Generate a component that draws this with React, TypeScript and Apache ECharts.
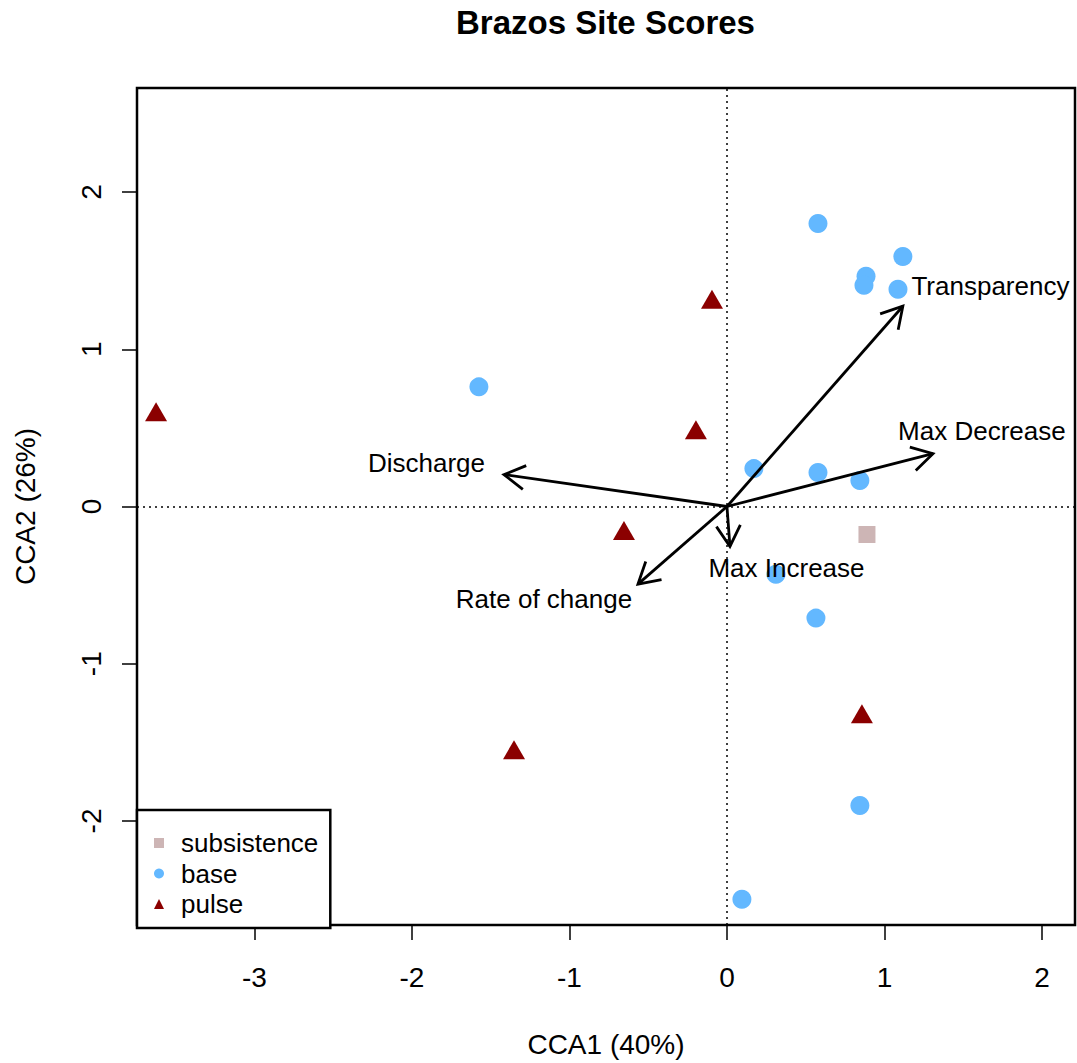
import React, { useEffect, useRef } from "react";
import * as echarts from "echarts";

// ---- data ----
const xTicks = [-3, -2, -1, 0, 1, 2];
const yTicks = [-2, -1, 0, 1, 2];

const subsistenceX = [0.889];
const subsistenceY = [-0.178];

const baseX = [0.578, 1.117, 0.883, 0.870, 1.086, -1.575, 0.171, 0.578, 0.844, 0.311, 0.565, 0.844, 0.095];
const baseY = [1.80, 1.59, 1.464, 1.407, 1.382, 0.761, 0.241, 0.216, 0.165, -0.431, -0.710, -1.902, -2.498];

const pulseX = [-0.095, -3.625, -0.197, -0.654, 0.857, -1.352];
const pulseY = [1.319, 0.602, 0.488, -0.152, -1.319, -1.547];

const vectorNames = ["Transparency", "Max Decrease", "Discharge", "Rate of change", "Max Increase"];
const vectorX = [1.117, 1.308, -1.416, -0.565, 0.019];
const vectorY = [1.274, 0.336, 0.203, -0.494, -0.254];
const vectorLabelX = [1.673, 1.619, -1.908, -1.162, 0.378];
const vectorLabelY = [1.401, 0.482, 0.279, -0.590, -0.393];

const seriesNames = ["subsistence", "base", "pulse"];

const FONT = "'Liberation Sans', Arial, Helvetica, sans-serif";

const zip = (xs: number[], ys: number[]) => xs.map((x, i) => [x, ys[i]]);

export default function App() {
  const ref = useRef<HTMLDivElement>(null);

  useEffect(() => {
    if (!ref.current) return;
    const chart = echarts.init(ref.current, null, { renderer: "svg" });

    const option: any = {
      animation: false,
      backgroundColor: "#fff",
      textStyle: { fontFamily: FONT },
      title: {
        text: "Brazos Site Scores",
        left: 451,
        top: 1,
        textStyle: { fontFamily: FONT, fontSize: 33, fontWeight: "bold", color: "#000" },
      },
      grid: {
        left: 137,
        top: 88,
        right: 2,
        bottom: 135,
        show: true,
        borderColor: "#000",
        borderWidth: 2.5,
        backgroundColor: "transparent",
        containLabel: false,
      },
      legend: {
        data: seriesNames.map((n) => ({ name: n })),
        orient: "vertical",
        left: 137,
        top: 810,
        padding: [20, 12, 11, 17],
        itemWidth: 10,
        itemHeight: 10,
        itemGap: 4.5,
        borderColor: "#000",
        borderWidth: 2.5,
        borderRadius: 0,
        backgroundColor: "#fff",
        selectedMode: false,
        textStyle: { fontFamily: FONT, fontSize: 26, lineHeight: 26, color: "#000", padding: [0, 0, 0, 12] },
        z: 10,
      },
      xAxis: {
        type: "value",
        min: -3.746,
        max: 2.21,
        name: "CCA1 (40%)",
        nameLocation: "middle",
        nameGap: 105,
        nameTextStyle: { fontFamily: FONT, fontSize: 28, color: "#000" },
        axisLine: { show: false, onZero: false },
        splitLine: { show: false },
        axisTick: { show: true, length: 15, customValues: xTicks, lineStyle: { color: "#000", width: 1.5 } },
        axisLabel: { customValues: xTicks, margin: 38, fontSize: 28, fontFamily: FONT, color: "#000" },
      },
      yAxis: {
        type: "value",
        min: -2.662,
        max: 2.662,
        name: "CCA2 (26%)",
        nameLocation: "middle",
        nameGap: 98,
        nameTextStyle: { fontFamily: FONT, fontSize: 28, color: "#000" },
        axisLine: { show: false, onZero: false },
        splitLine: { show: false },
        axisTick: { show: true, length: 15, customValues: yTicks, lineStyle: { color: "#000", width: 1.5 } },
        axisLabel: { customValues: yTicks, margin: 32, rotate: 90, fontSize: 28, fontFamily: FONT, color: "#000" },
      },
      series: [
        {
          name: "subsistence",
          type: "scatter",
          symbol: "rect",
          symbolSize: 17,
          itemStyle: { color: "#CDB5B5", opacity: 1 },
          data: zip(subsistenceX, subsistenceY),
          z: 3,
          markLine: {
            silent: true,
            symbol: ["none", "none"],
            label: { show: false },
            lineStyle: { color: "#000", width: 1.5, type: [2, 4], opacity: 1 },
            data: [{ xAxis: 0 }, { yAxis: 0 }],
            z: 1,
          },
        },
        {
          name: "base",
          type: "scatter",
          symbol: "circle",
          symbolSize: 19,
          itemStyle: { color: "#63B8FF", opacity: 1 },
          data: zip(baseX, baseY),
          z: 3,
        },
        {
          name: "pulse",
          type: "scatter",
          symbol: "triangle",
          symbolSize: [22, 19],
          itemStyle: { color: "#8B0000", opacity: 1 },
          data: zip(pulseX, pulseY),
          z: 3,
        },
        {
          name: "vectors",
          type: "custom",
          z: 4,
          silent: true,
          data: zip(vectorX, vectorY),
          renderItem: (params: any, api: any) => {
            const o = api.coord([0, 0]);
            const t = api.coord([api.value(0), api.value(1)]);
            const ang = Math.atan2(t[1] - o[1], t[0] - o[0]);
            const L = 24;
            const a = Math.PI / 6;
            const p1 = [t[0] - L * Math.cos(ang - a), t[1] - L * Math.sin(ang - a)];
            const p2 = [t[0] - L * Math.cos(ang + a), t[1] - L * Math.sin(ang + a)];
            return {
              type: "group",
              children: [
                {
                  type: "line",
                  shape: { x1: o[0], y1: o[1], x2: t[0], y2: t[1] },
                  style: { stroke: "#000", lineWidth: 2.8 },
                },
                {
                  type: "polyline",
                  shape: { points: [p1, t, p2] },
                  style: { stroke: "#000", lineWidth: 2.8, fill: null },
                },
              ],
            };
          },
        },
        {
          name: "vectorLabels",
          type: "scatter",
          symbolSize: 0,
          silent: true,
          z: 5,
          itemStyle: { opacity: 1 },
          data: vectorNames.map((n, i) => ({ name: n, value: [vectorLabelX[i], vectorLabelY[i]] })),
          label: {
            show: true,
            position: "inside",
            formatter: "{b}",
            fontFamily: FONT,
            fontSize: 26,
            color: "#000",
            opacity: 1,
          },
        },
      ],
    };

    chart.setOption(option);
    return () => chart.dispose();
  }, []);

  return (
    <div
      ref={ref}
      style={{ position: "absolute", left: 0, top: 0, width: 1077, height: 1063, background: "#fff" }}
    />
  );
}
